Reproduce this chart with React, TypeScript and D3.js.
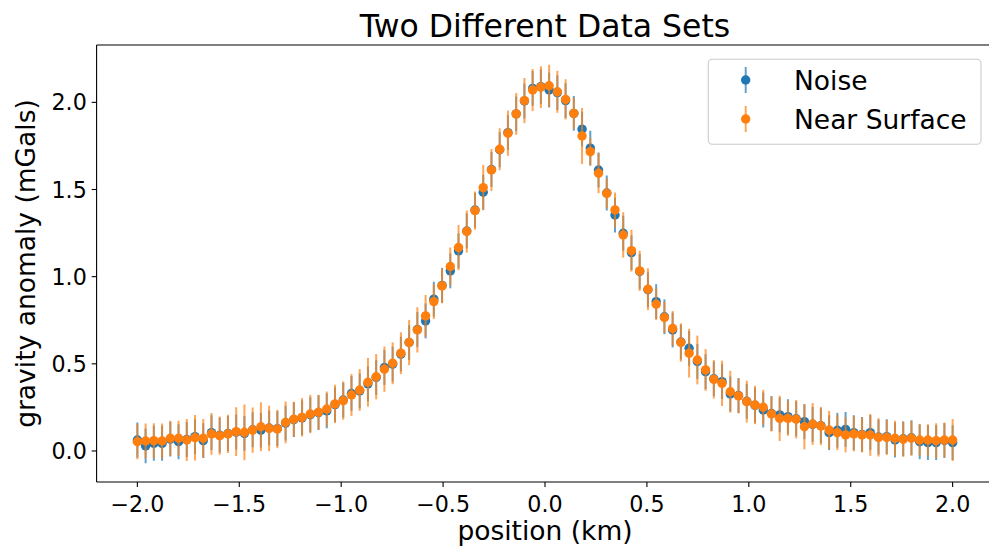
import React from "react";
import * as d3 from "d3";

// ---- data ----
const X_START = -2;
const X_END = 2;
const N_POINTS = 100;

const NOISE: number[] = [
  0.063, 0.029, 0.044, 0.044, 0.068, 0.053, 0.066, 0.082, 0.059, 0.105,
  0.090, 0.100, 0.108, 0.101, 0.122, 0.119, 0.132, 0.128, 0.160, 0.180,
  0.190, 0.208, 0.220, 0.230, 0.266, 0.292, 0.330, 0.345, 0.385, 0.422,
  0.479, 0.498, 0.556, 0.622, 0.697, 0.746, 0.871, 0.950, 1.033, 1.148,
  1.262, 1.382, 1.484, 1.615, 1.728, 1.826, 1.934, 2.008, 2.080, 2.090,
  2.071, 2.056, 2.010, 1.937, 1.846, 1.737, 1.612, 1.480, 1.354, 1.249,
  1.138, 1.030, 0.925, 0.857, 0.770, 0.694, 0.625, 0.589, 0.513, 0.455,
  0.414, 0.398, 0.327, 0.318, 0.285, 0.262, 0.235, 0.215, 0.207, 0.197,
  0.185, 0.168, 0.153, 0.145, 0.105, 0.119, 0.124, 0.105, 0.095, 0.105,
  0.080, 0.082, 0.063, 0.070, 0.076, 0.053, 0.048, 0.048, 0.060, 0.048,
];

const NEAR_SURFACE: number[] = [
  0.053, 0.057, 0.059, 0.057, 0.073, 0.073, 0.063, 0.076, 0.073, 0.098,
  0.088, 0.098, 0.111, 0.107, 0.120, 0.139, 0.130, 0.126, 0.164, 0.182,
  0.193, 0.212, 0.222, 0.241, 0.270, 0.289, 0.321, 0.350, 0.394, 0.426,
  0.469, 0.503, 0.561, 0.622, 0.695, 0.775, 0.857, 0.947, 1.058, 1.167,
  1.259, 1.379, 1.511, 1.612, 1.731, 1.823, 1.934, 2.010, 2.071, 2.087,
  2.095, 2.061, 2.017, 1.937, 1.807, 1.717, 1.593, 1.478, 1.383, 1.239,
  1.149, 1.033, 0.928, 0.842, 0.766, 0.703, 0.622, 0.561, 0.522, 0.465,
  0.411, 0.388, 0.340, 0.316, 0.283, 0.264, 0.251, 0.212, 0.187, 0.187,
  0.182, 0.139, 0.155, 0.143, 0.120, 0.105, 0.092, 0.098, 0.092, 0.092,
  0.078, 0.078, 0.073, 0.067, 0.073, 0.063, 0.063, 0.059, 0.063, 0.063,
];

const NOISE_ERR = 0.1;

const NEAR_SURFACE_ERR: number[] = [
  0.10, 0.10, 0.10, 0.10, 0.10, 0.10, 0.12, 0.13, 0.11, 0.12,
  0.11, 0.11, 0.14, 0.16, 0.13, 0.14, 0.13, 0.11, 0.12, 0.10,
  0.11, 0.11, 0.10, 0.10, 0.11, 0.11, 0.12, 0.12, 0.14, 0.13,
  0.13, 0.12, 0.12, 0.13, 0.13, 0.12, 0.10, 0.10, 0.11, 0.13,
  0.12, 0.11, 0.13, 0.12, 0.12, 0.13, 0.12, 0.13, 0.12, 0.12,
  0.12, 0.12, 0.115, 0.09, 0.16, 0.08, 0.115, 0.085, 0.10, 0.13,
  0.12, 0.115, 0.12, 0.09, 0.09, 0.10, 0.11, 0.14, 0.14, 0.12,
  0.11, 0.13, 0.12, 0.10, 0.12, 0.11, 0.10, 0.10, 0.13, 0.10,
  0.11, 0.13, 0.12, 0.11, 0.11, 0.10, 0.10, 0.10, 0.10, 0.12,
  0.11, 0.10, 0.10, 0.10, 0.10, 0.09, 0.09, 0.10, 0.10, 0.12,
];

const X_TICKS = [-2.0, -1.5, -1.0, -0.5, 0.0, 0.5, 1.0, 1.5, 2.0];
const Y_TICKS = [0.0, 0.5, 1.0, 1.5, 2.0];

const TITLE = "Two Different Data Sets";
const X_LABEL = "position (km)";
const Y_LABEL = "gravity anomaly (mGals)";
const SERIES_NAMES = ["Noise", "Near Surface"];

// ---- layout ----
const W = 989;
const H = 550;
const AX = { left: 96.6, right: 993.4, top: 45, bottom: 482 };
const X_DOMAIN: [number, number] = [-2.2, 2.2];
const Y_DOMAIN: [number, number] = [-0.178, 2.329];
const BLUE = "#1f77b4";
const ORANGE = "#ff7f0e";
const FONT = "'DejaVu Sans', sans-serif";

const fmt = (v: number) => {
  const s = v.toFixed(1);
  return v < 0 ? "\u2212" + s.slice(1) : s;
};

export default function App() {
  const xs = d3.range(N_POINTS).map((i) => X_START + ((X_END - X_START) * i) / (N_POINTS - 1));
  const x = d3.scaleLinear().domain(X_DOMAIN).range([AX.left, AX.right]);
  const y = d3.scaleLinear().domain(Y_DOMAIN).range([AX.bottom, AX.top]);

  const series = [
    { name: SERIES_NAMES[0], values: NOISE, err: NOISE.map(() => NOISE_ERR), color: BLUE },
    { name: SERIES_NAMES[1], values: NEAR_SURFACE, err: NEAR_SURFACE_ERR, color: ORANGE },
  ];

  const r = 4.7;
  const tickLen = 4.9;

  return (
    <svg
      width={W}
      height={H}
      style={{ position: "absolute", left: 0, top: 0, background: "#fff" }}
      fontFamily={FONT}
    >
      <defs>
        <clipPath id="plotclip">
          <rect x={AX.left} y={AX.top} width={AX.right - AX.left} height={AX.bottom - AX.top} />
        </clipPath>
      </defs>
      <rect x={0} y={0} width={W} height={H} fill="#fff" />

      {/* data */}
      <g clipPath="url(#plotclip)">
        {series.map((s) => (
          <g key={s.name}>
            <g stroke={s.color} strokeWidth={2} strokeOpacity={0.7}>
              {s.values.map((v, i) => (
                <line
                  key={i}
                  x1={x(xs[i])}
                  x2={x(xs[i])}
                  y1={y(v - s.err[i])}
                  y2={y(v + s.err[i])}
                />
              ))}
            </g>
            <g fill={s.color}>
              {s.values.map((v, i) => (
                <circle key={i} cx={x(xs[i])} cy={y(v)} r={r} />
              ))}
            </g>
          </g>
        ))}
      </g>

      {/* spines */}
      <g stroke="#000" strokeWidth={1.1} fill="none">
        <line x1={AX.left} x2={AX.left} y1={AX.top} y2={AX.bottom} />
        <line x1={AX.right} x2={AX.right} y1={AX.top} y2={AX.bottom} />
        <line x1={AX.left} x2={AX.right} y1={AX.top} y2={AX.top} />
        <line x1={AX.left} x2={AX.right} y1={AX.bottom} y2={AX.bottom} />
      </g>

      {/* x ticks */}
      <g fontSize={22.2} fill="#000">
        {X_TICKS.map((t) => (
          <g key={t}>
            <line x1={x(t)} x2={x(t)} y1={AX.bottom} y2={AX.bottom + tickLen} stroke="#000" strokeWidth={1.1} />
            <text x={x(t)} y={511.5} textAnchor="middle">
              {fmt(t)}
            </text>
          </g>
        ))}
      </g>

      {/* y ticks */}
      <g fontSize={22.2} fill="#000">
        {Y_TICKS.map((t) => (
          <g key={t}>
            <line x1={AX.left - tickLen} x2={AX.left} y1={y(t)} y2={y(t)} stroke="#000" strokeWidth={1.1} />
            <text x={AX.left - tickLen - 4.9} y={y(t) + 8.1} textAnchor="end">
              {fmt(t)}
            </text>
          </g>
        ))}
      </g>

      {/* labels */}
      <text x={(AX.left + AX.right) / 2} y={540} textAnchor="middle" fontSize={26.5} fill="#000">
        {X_LABEL}
      </text>
      <text
        transform={`translate(35, ${(AX.top + AX.bottom) / 2}) rotate(-90)`}
        textAnchor="middle"
        fontSize={26.5}
        fill="#000"
      >
        {Y_LABEL}
      </text>
      <text x={(AX.left + AX.right) / 2} y={37} textAnchor="middle" fontSize={31.5} fill="#000">
        {TITLE}
      </text>

      {/* legend */}
      <g>
        <rect
          x={708.3}
          y={59.3}
          width={981 - 708.3}
          height={144.3 - 59.3}
          rx={4}
          ry={4}
          fill="#fff"
          fillOpacity={0.8}
          stroke="#cccccc"
          strokeWidth={1.1}
        />
        {series.map((s, k) => {
          const cy = 80 + k * 39;
          return (
            <g key={s.name}>
              <line x1={745.7} x2={745.7} y1={cy - 13} y2={cy + 13} stroke={s.color} strokeWidth={2} strokeOpacity={0.7} />
              <circle cx={745.7} cy={cy} r={r} fill={s.color} />
              <text x={794} y={cy + 9.6} fontSize={26.5} fill="#000">
                {s.name}
              </text>
            </g>
          );
        })}
      </g>
    </svg>
  );
}
